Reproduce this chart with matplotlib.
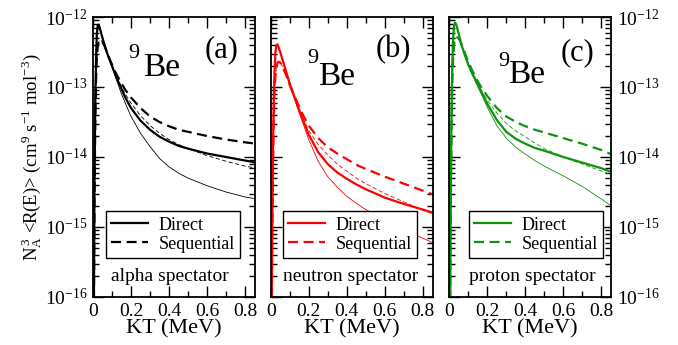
import matplotlib
matplotlib.use('Agg')
import matplotlib.pyplot as plt, numpy as np
from matplotlib.ticker import MultipleLocator, NullFormatter, FuncFormatter, LogFormatterSciNotation
from matplotlib.lines import Line2D

plt.rcParams['font.family'] = 'Liberation Serif'
plt.rcParams['mathtext.fontset'] = 'custom'
plt.rcParams['mathtext.rm'] = 'Liberation Serif'
plt.rcParams['mathtext.it'] = 'Liberation Serif:italic'

# KT grid (MeV) and log10 of the rates
kt = [0.004, 0.008, 0.012, 0.016, 0.02, 0.025, 0.03, 0.035, 0.04, 0.05, 0.06, 0.07, 0.08,
      0.1, 0.12, 0.15, 0.17, 0.2, 0.25, 0.3, 0.35, 0.4, 0.45, 0.5, 0.6, 0.7, 0.8, 0.86]

# alpha spectator
a_dir = [-16.5, -14.3, -13.2, -12.6, -12.25, -12.12, -12.11, -12.15, -12.2, -12.3, -12.39, -12.48, -12.56,
         -12.7, -12.84, -13.03, -13.15, -13.3, -13.48, -13.61, -13.71, -13.78, -13.84, -13.88, -13.95, -14.0, -14.05, -14.08]
a_seq = [-16.5, -14.6, -13.5, -12.9, -12.6, -12.42, -12.36, -12.34, -12.33, -12.36, -12.41, -12.48, -12.55,
         -12.68, -12.8, -12.95, -13.04, -13.15, -13.3, -13.42, -13.5, -13.56, -13.61, -13.64, -13.7, -13.75, -13.79, -13.81]
a_dir_thin = [-16.5, -14.3, -13.2, -12.6, -12.25, -12.12, -12.11, -12.15, -12.2, -12.3, -12.39, -12.48, -12.56,
              -12.71, -12.87, -13.1, -13.23, -13.42, -13.66, -13.85, -14.02, -14.14, -14.23, -14.3, -14.41, -14.5, -14.57, -14.6]
a_seq_thin = [-16.5, -14.6, -13.5, -12.9, -12.6, -12.42, -12.36, -12.34, -12.33, -12.36, -12.41, -12.48, -12.55,
              -12.69, -12.82, -13.0, -13.1, -13.23, -13.41, -13.55, -13.66, -13.75, -13.82, -13.88, -13.98, -14.06, -14.13, -14.16]

# neutron spectator
b_dir = [-16.5, -15.0, -13.9, -13.2, -12.8, -12.5, -12.4, -12.39, -12.42, -12.5, -12.59, -12.68, -12.77,
         -12.95, -13.1, -13.33, -13.47, -13.68, -13.93, -14.1, -14.22, -14.31, -14.39, -14.46, -14.58, -14.67, -14.75, -14.8]
b_seq = [-16.5, -15.3, -14.2, -13.5, -13.1, -12.85, -12.72, -12.66, -12.64, -12.65, -12.7, -12.76, -12.82,
         -12.97, -13.1, -13.28, -13.4, -13.55, -13.73, -13.86, -13.95, -14.03, -14.11, -14.17, -14.28, -14.38, -14.48, -14.54]
b_dir_thin = [-16.5, -15.0, -13.9, -13.2, -12.8, -12.5, -12.4, -12.39, -12.42, -12.5, -12.59, -12.68, -12.77,
              -12.97, -13.13, -13.37, -13.52, -13.75, -14.06, -14.28, -14.43, -14.56, -14.66, -14.75, -14.9, -15.03, -15.16, -15.23]
b_seq_thin = [-16.5, -15.3, -14.2, -13.5, -13.1, -12.85, -12.72, -12.66, -12.64, -12.65, -12.7, -12.76, -12.82,
              -12.98, -13.12, -13.32, -13.45, -13.62, -13.82, -13.97, -14.1, -14.2, -14.3, -14.38, -14.52, -14.64, -14.76, -14.82]

# proton spectator
c_dir = [-16.5, -14.4, -13.3, -12.65, -12.3, -12.12, -12.08, -12.1, -12.14, -12.25, -12.35, -12.45, -12.53,
         -12.68, -12.8, -12.96, -13.07, -13.24, -13.47, -13.64, -13.74, -13.81, -13.87, -13.91, -14.0, -14.08, -14.16, -14.22]
c_seq = [-16.5, -14.7, -13.6, -12.95, -12.6, -12.4, -12.32, -12.3, -12.29, -12.31, -12.36, -12.43, -12.5,
         -12.64, -12.76, -12.92, -13.01, -13.13, -13.3, -13.42, -13.5, -13.56, -13.61, -13.65, -13.73, -13.81, -13.9, -13.97]
c_dir_thin = [-16.5, -14.4, -13.3, -12.65, -12.3, -12.12, -12.08, -12.1, -12.14, -12.25, -12.35, -12.45, -12.53,
              -12.69, -12.82, -13.0, -13.11, -13.29, -13.55, -13.73, -13.86, -13.96, -14.05, -14.13, -14.27, -14.42, -14.6, -14.71]
c_seq_thin = [-16.5, -14.7, -13.6, -12.95, -12.6, -12.4, -12.32, -12.3, -12.29, -12.31, -12.36, -12.43, -12.5,
              -12.66, -12.79, -12.96, -13.06, -13.19, -13.37, -13.52, -13.63, -13.71, -13.8, -13.88, -14.0, -14.1, -14.2, -14.26]

panels = [
    ('(a)', 'alpha spectator', 'black', a_dir, a_seq, a_dir_thin, a_seq_thin),
    ('(b)', 'neutron spectator', '#ff0000', b_dir, b_seq, b_dir_thin, b_seq_thin),
    ('(c)', 'proton spectator', '#0e930e', c_dir, c_seq, c_dir_thin, c_seq_thin),
]

decades = [-16, -15, -14, -13, -12]

W, H = 678, 345
lefts = [93, 270.7, 449.3]
# text spots in pixels (x, baseline y)
nine_xy = [(128, 58), (307, 63), (498, 66)]
be_xy = [(143, 76), (318, 85), (508, 83)]
tag_xy = [(222, 57), (393, 57), (578, 60)]
leg_xy = [(106, 258), (283, 258), (469, 258)]
spec_x = [170, 351, 532]

fig = plt.figure(figsize=(W / 100, H / 100), dpi=100)
for i, (tag, spec, col, d, s, dt, st) in enumerate(panels):
    x0 = lefts[i]
    ax = fig.add_axes([x0 / W, 48 / H, 162 / W, 280 / H])
    ax.semilogy(kt, 10 ** np.array(dt), color=col, lw=0.6)
    ax.semilogy(kt, 10 ** np.array(st), color=col, lw=0.6, ls=(0, (5, 3)))
    ax.semilogy(kt, 10 ** np.array(d), color=col, lw=1.6)
    ax.semilogy(kt, 10 ** np.array(s), color=col, lw=1.6, ls=(0, (4.5, 2.5)))
    ax.set_xlim(0, 0.853)
    ax.set_ylim(1e-16, 1e-12)
    ax.xaxis.set_major_locator(MultipleLocator(0.2))
    ax.xaxis.set_minor_locator(MultipleLocator(0.1))
    ax.xaxis.set_major_formatter(FuncFormatter(lambda v, p: '0' if abs(v) < 1e-9 else '%g' % v))
    ax.set_yticks([10.0 ** e for e in decades])
    ax.set_yticks([m * 10.0 ** e for e in decades[:-1] for m in range(2, 10)], minor=True)
    ax.yaxis.set_major_formatter(LogFormatterSciNotation())
    ax.yaxis.set_minor_formatter(NullFormatter())
    ax.tick_params(which='both', direction='in', top=True, right=True, width=1, labelsize=14)
    ax.tick_params(which='major', length=8, pad=4)
    ax.tick_params(which='minor', length=4)
    for sp in ax.spines.values():
        sp.set_linewidth(1.3)
    ax.set_xlabel('KT (MeV)', fontsize=16, labelpad=0)
    if i == 0:
        ax.set_ylabel(r'N$_\mathregular{A}^{\,\mathregular{3}}$ <R(E)> (cm$^\mathregular{9}$ s$^\mathregular{-1}$ mol$^\mathregular{-3}$)',
                      fontsize=13.5)
        ax.yaxis.set_label_coords(-0.30, 0.5)
    elif i == 1:
        ax.tick_params(axis='y', labelleft=False)
    else:
        ax.tick_params(axis='y', labelleft=False, labelright=True)

    def ax_xy(px, py):
        return ((px - x0) / 162, (297 - py) / 280)

    ax.text(*ax_xy(*nine_xy[i]), '9', fontsize=16, transform=ax.transAxes, va='baseline')
    ax.text(*ax_xy(*be_xy[i]), 'Be', fontsize=24, transform=ax.transAxes, va='baseline')
    ax.text(*ax_xy(*tag_xy[i]), tag, fontsize=22, transform=ax.transAxes, va='baseline', ha='center')
    ax.text(*ax_xy(spec_x[i], 281), spec, fontsize=14, transform=ax.transAxes, va='baseline', ha='center')

    handles = [Line2D([], [], color=col, lw=1.6),
               Line2D([], [], color=col, lw=1.6, ls=(0, (4.5, 2.5)))]
    leg = ax.legend(handles, ['Direct', 'Sequential'], loc='lower left',
                    bbox_to_anchor=ax_xy(*leg_xy[i]), borderaxespad=0, fontsize=13,
                    fancybox=False, edgecolor='black', framealpha=1,
                    handlelength=2.0, handletextpad=0.6, borderpad=0.3, labelspacing=0.1)
    leg.get_frame().set_linewidth(1.0)

fig.savefig('out.png', dpi=100)
